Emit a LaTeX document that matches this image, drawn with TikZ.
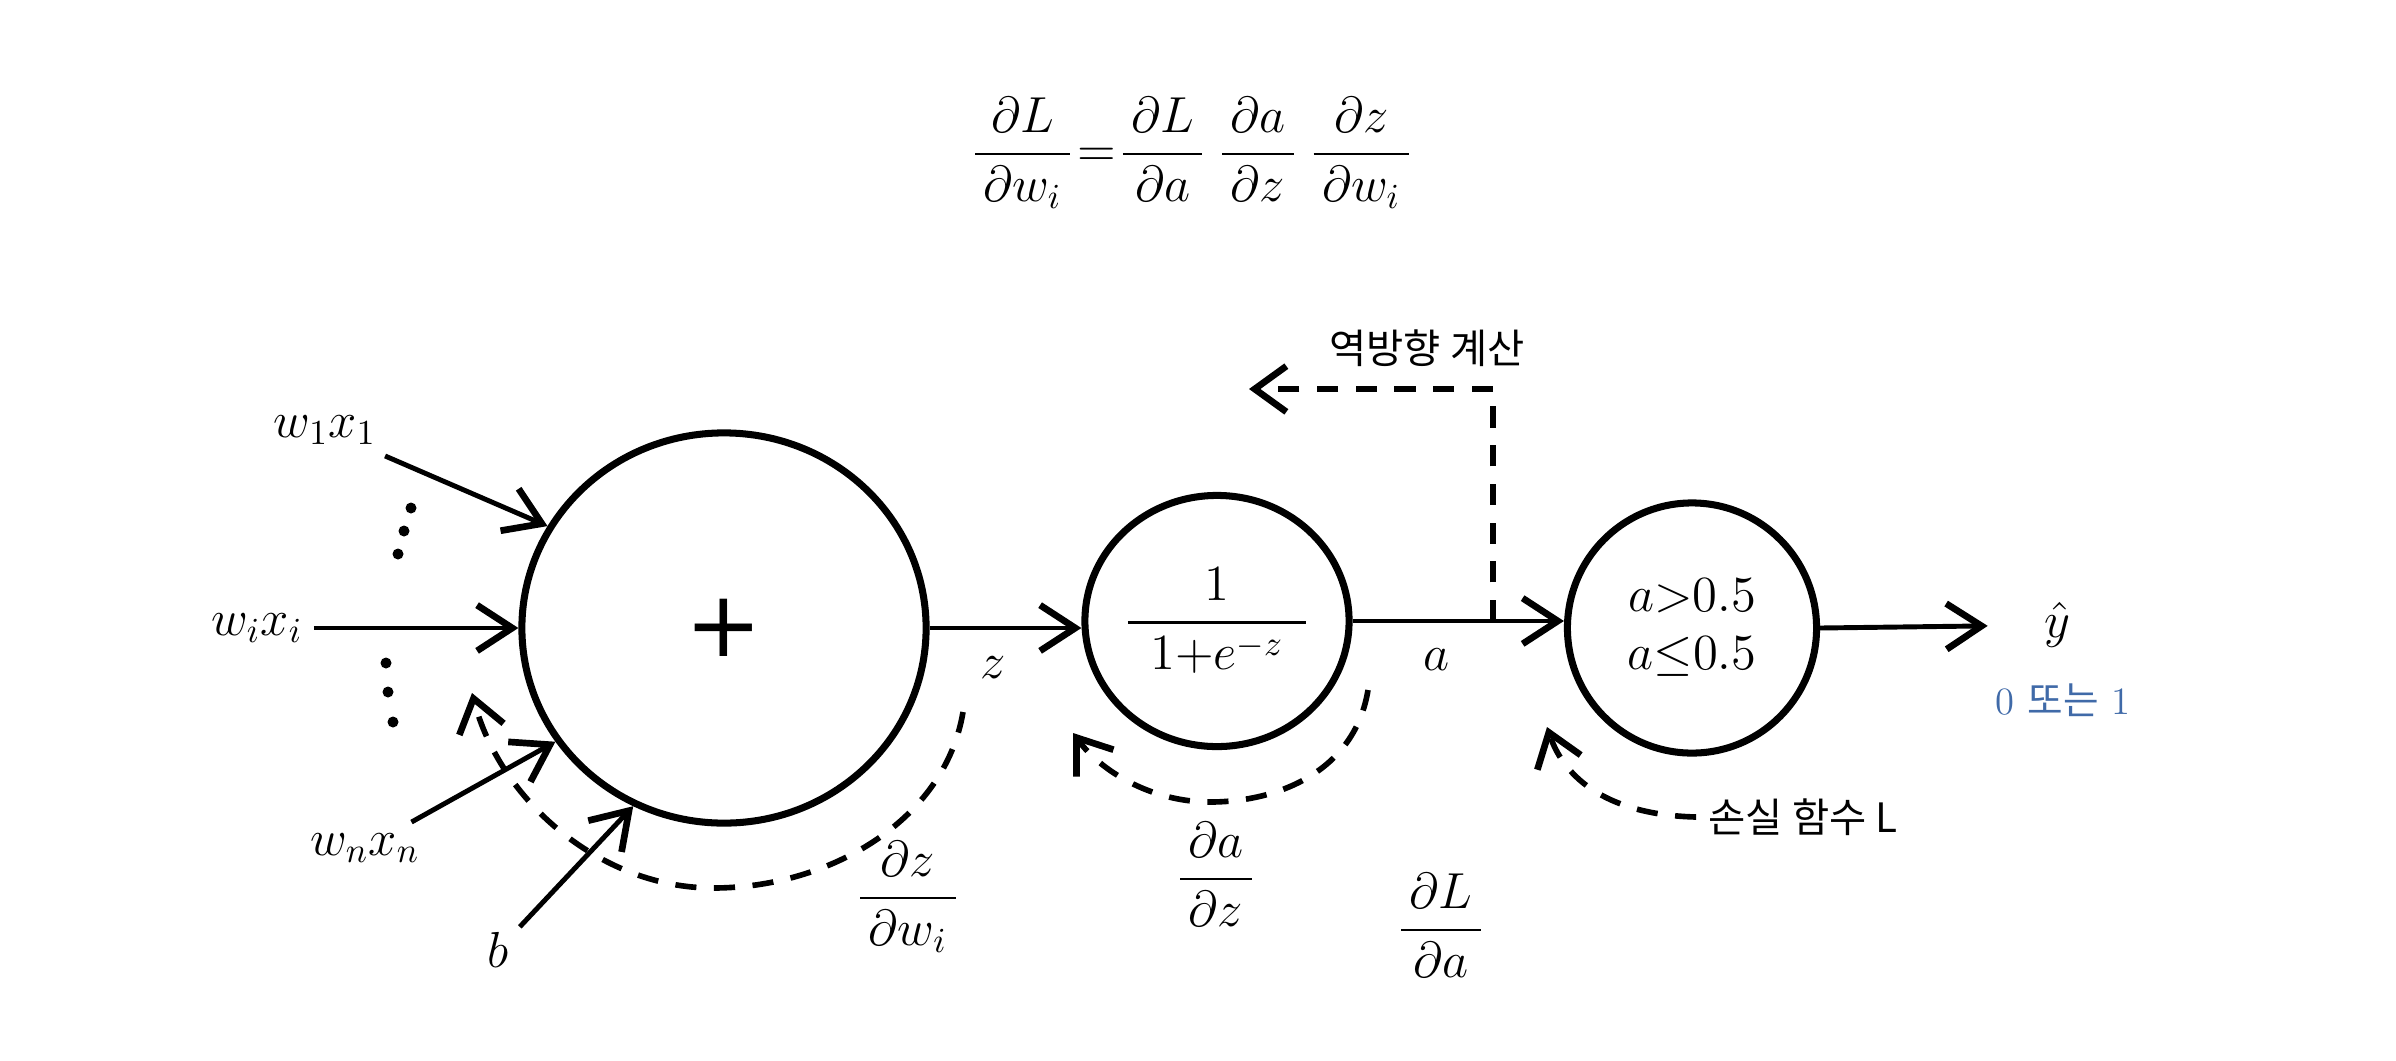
\documentclass[tikz,border=0pt]{standalone}
\usepackage{fontspec}
\usepackage{amsmath}
\newfontfamily\kr{Noto Sans CJK KR}
\newfontfamily\plusfont{DejaVu Sans}
\usetikzlibrary{arrows.meta,shapes.geometric}
\definecolor{numblue}{RGB}{64,106,168}
\begin{document}
\begin{tikzpicture}[x=0.01cm,y=-0.01cm,
  neuron/.style={ellipse,draw,line width=2pt,inner sep=0pt},
  conn/.style={line width=1.4pt,-{Straight Barb[length=10pt,width=13pt,line width=1.9pt]}},
  back/.style={line width=1.6pt,dash pattern=on 6pt off 5pt,-{Straight Barb[length=9pt,width=13pt,line width=1.9pt]}},
  mlbl/.style={font=\fontsize{14}{17}\selectfont,inner sep=3pt},
  krl/.style={font=\kr\fontsize{11.5}{14}\selectfont}]
\useasboundingbox (0,0) rectangle (2396,1060);

% equation
\node[mlbl] (eq) at (1192,153) {$\displaystyle\frac{\,\partial L\,}{\,\partial w_i\,}\mkern1mu{=}\mkern1mu\frac{\,\partial L\,}{\,\partial a\,}\mkern4mu\frac{\,\partial a\,}{\,\partial z\,}\mkern4mu\frac{\,\partial z\,}{\,\partial w_i\,}$};

% neurons
\node[neuron,minimum width=4.04cm,minimum height=3.9cm] (sum) at (724,628) {\plusfont\fontsize{26}{26}\selectfont +};
\node[neuron,minimum width=2.55cm,minimum height=2.51cm,font=\fontsize{14}{17}\selectfont] (sig) at (1217,621) {$\displaystyle\frac{1}{\;\,1{+}e^{-z}\;\,}$};
\node[neuron,minimum width=2.49cm,minimum height=2.5cm,align=center,font=\fontsize{14.5}{16.5}\selectfont] (thr) at (1692,628) {$a{>}0.5$\\$a{\le}0.5$};

% inputs
\node[mlbl] (x1) at (325,430) {$w_1x_1$};
\node[mlbl] (xi) at (257,628) {$w_ix_i$};
\node[mlbl] (xn) at (365,848) {$w_nx_n$};
\node[mlbl] (b) at (498,950) {$b$};
\draw[conn] (x1) -- (sum.150);
\draw[conn] (xi) -- (sum.west);
\draw[conn] (xn) -- (sum.214);
\draw[conn] (b) -- (sum.243);

\foreach \p in {(411,508),(404,531),(398,554),(386,663),(388,692),(393,722)}
  \fill \p circle (0.055cm);

% outputs and labels
\node[mlbl] (zl) at (993,668) {$z$};
\node[mlbl] (al) at (1437,660) {$a$};
\node[mlbl] (yhat) at (2057,625) {$\hat{y}$};
\node[font=\fontsize{11}{13}\selectfont,text=numblue] (yval) at (2063,700) {0 {\kr 또는} 1};
\draw[conn] (sum.east) -- (sum.east -| sig.west);
\draw[conn] (sig.east) -- (sig.east -| thr.west);
\draw[conn,shorten >=0.45cm] (thr.east) -- (yhat);

\node[mlbl] (dzw) at (908,897) {$\displaystyle\frac{\,\partial z\,}{\,\partial w_i\,}$};
\node[mlbl] (daz) at (1216,874) {$\displaystyle\frac{\,\partial a\,}{\,\partial z\,}$};
\node[mlbl] (dLa) at (1441,925) {$\displaystyle\frac{\,\partial L\,}{\,\partial a\,}$};

\node[krl] (bwd) at (1427,348) {역방향 계산};
\node[krl] (loss) at (1803,817) {손실 함수 L};

% backward paths
\coordinate (bp) at (1493,621);
\coordinate (bpend) at (1249,389);
\draw[back] (bp) |- (bpend);

\coordinate (s1) at (963,712);
\coordinate (s1tip) at (472,693);
\draw[back] (s1) .. controls (945,820) and (830,888) .. (713,888) .. controls (600,888) and (500,800) .. (s1tip);

\coordinate (s2) at (1368,690);
\coordinate (s2tip) at (1073,733);
\draw[back] (s2) .. controls (1355,770) and (1280,802) .. (1210,802) .. controls (1150,802) and (1100,770) .. (s2tip);

\coordinate (s3tip) at (1547,727);
\draw[back] (loss.west) .. controls (1610,815) and (1565,780) .. (s3tip);
\end{tikzpicture}
\end{document}
